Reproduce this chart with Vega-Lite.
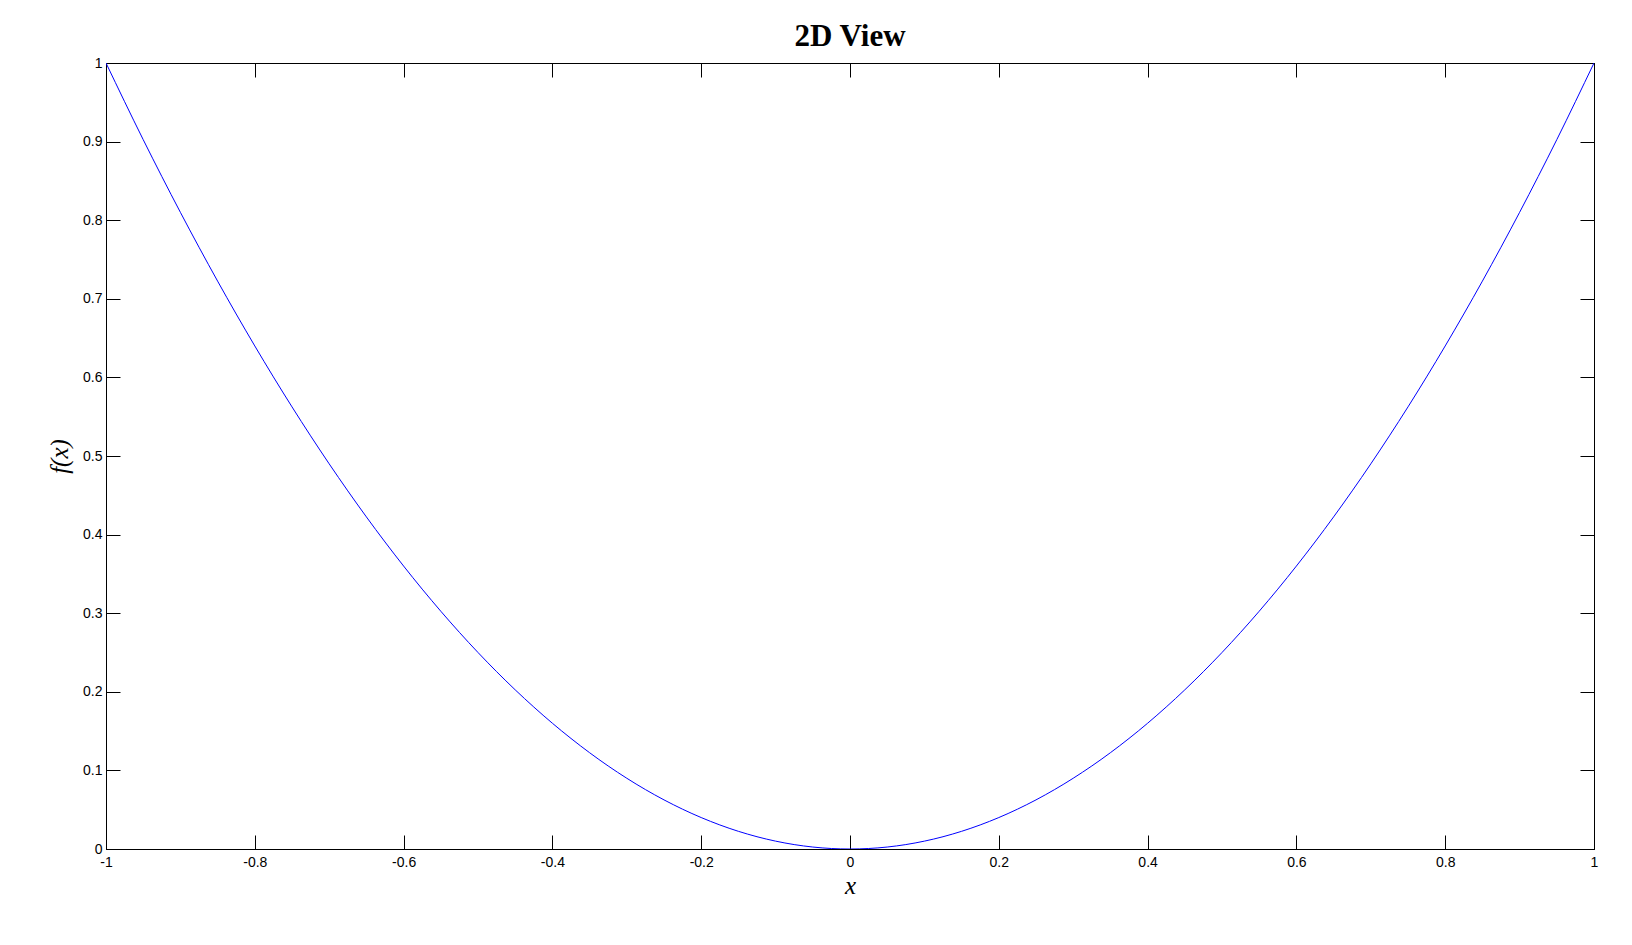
{
  "$schema": "https://vega.github.io/schema/vega-lite/v6.json",
  "width": 1488,
  "height": 786,
  "autosize": {"type": "none"},
  "padding": {"left": 106, "top": 63, "right": 38, "bottom": 96},
  "background": "white",
  "title": {"text": "2D View", "font": "Liberation Serif", "fontSize": 31, "fontWeight": "bold", "color": "black", "offset": 3},
  "config": {
    "view": {"stroke": "black", "strokeWidth": 1},
    "axis": {"domainColor": "black", "tickColor": "black", "labelColor": "black", "labelFont": "Liberation Sans", "labelFontSize": 14, "grid": false, "tickSize": -14, "titleFont": "Liberation Serif", "titleFontStyle": "italic", "titleFontWeight": "normal", "titleFontSize": 25, "titleColor": "black", "labelExpr": "'' + datum.value"}
  },
  "data": {"values": [
    {"x": -1, "y": 1}, {"x": -0.95, "y": 0.9025}, {"x": -0.9, "y": 0.81}, {"x": -0.85, "y": 0.7225},
    {"x": -0.8, "y": 0.64}, {"x": -0.75, "y": 0.5625}, {"x": -0.7, "y": 0.49}, {"x": -0.65, "y": 0.4225},
    {"x": -0.6, "y": 0.36}, {"x": -0.55, "y": 0.3025}, {"x": -0.5, "y": 0.25}, {"x": -0.45, "y": 0.2025},
    {"x": -0.4, "y": 0.16}, {"x": -0.35, "y": 0.1225}, {"x": -0.3, "y": 0.09}, {"x": -0.25, "y": 0.0625},
    {"x": -0.2, "y": 0.04}, {"x": -0.15, "y": 0.0225}, {"x": -0.1, "y": 0.01}, {"x": -0.05, "y": 0.0025},
    {"x": 0, "y": 0},
    {"x": 0.05, "y": 0.0025}, {"x": 0.1, "y": 0.01}, {"x": 0.15, "y": 0.0225}, {"x": 0.2, "y": 0.04},
    {"x": 0.25, "y": 0.0625}, {"x": 0.3, "y": 0.09}, {"x": 0.35, "y": 0.1225}, {"x": 0.4, "y": 0.16},
    {"x": 0.45, "y": 0.2025}, {"x": 0.5, "y": 0.25}, {"x": 0.55, "y": 0.3025}, {"x": 0.6, "y": 0.36},
    {"x": 0.65, "y": 0.4225}, {"x": 0.7, "y": 0.49}, {"x": 0.75, "y": 0.5625}, {"x": 0.8, "y": 0.64},
    {"x": 0.85, "y": 0.7225}, {"x": 0.9, "y": 0.81}, {"x": 0.95, "y": 0.9025}, {"x": 1, "y": 1}
  ]},
  "layer": [
    {
      "mark": {"type": "line", "color": "#0000ff", "strokeWidth": 1, "interpolate": "monotone", "clip": true},
      "encoding": {
        "x": {"field": "x", "type": "quantitative", "scale": {"domain": [-1, 1], "nice": false, "zero": false},
          "axis": {"orient": "bottom", "title": "x", "values": [-1, -0.8, -0.6, -0.4, -0.2, 0, 0.2, 0.4, 0.6, 0.8, 1], "labelPadding": 20, "titlePadding": 4, "labelFlush": false, "labelOverlap": false}},
        "y": {"field": "y", "type": "quantitative", "scale": {"domain": [0, 1], "nice": false},
          "axis": {"orient": "left", "title": "f(x)", "values": [0, 0.1, 0.2, 0.3, 0.4, 0.5, 0.6, 0.7, 0.8, 0.9, 1], "labelPadding": 18, "titlePadding": 10, "labelFlush": false, "labelOverlap": false}}
      }
    },
    {
      "mark": {"type": "line", "strokeOpacity": 0},
      "encoding": {
        "x": {"field": "x", "type": "quantitative", "axis": {"orient": "top", "title": null, "labels": false, "values": [-1, -0.8, -0.6, -0.4, -0.2, 0, 0.2, 0.4, 0.6, 0.8, 1]}},
        "y": {"field": "y", "type": "quantitative", "axis": {"orient": "right", "title": null, "labels": false, "values": [0, 0.1, 0.2, 0.3, 0.4, 0.5, 0.6, 0.7, 0.8, 0.9, 1]}}
      }
    }
  ],
  "resolve": {"axis": {"x": "independent", "y": "independent"}}
}
